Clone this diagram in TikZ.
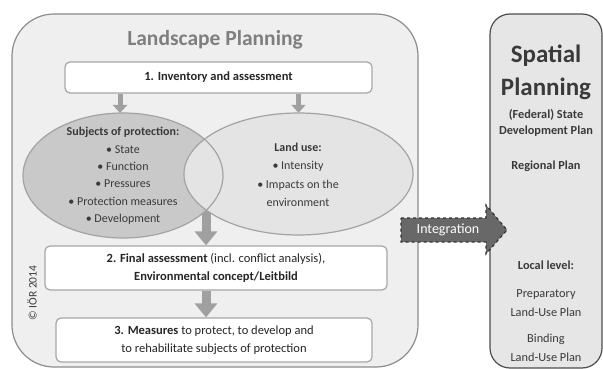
\documentclass[tikz,border=0pt]{standalone}
\usepackage{fontspec}
\setmainfont{Carlito}
\usetikzlibrary{arrows.meta,shapes.geometric}

\definecolor{panelfill}{HTML}{EFEFEF}
\definecolor{panelline}{HTML}{8C8C8C}
\definecolor{spatialfill}{HTML}{E6E6E6}
\definecolor{spatialline}{HTML}{4D4D4D}
\definecolor{boxline}{HTML}{A6A6A6}
\definecolor{subjfill}{HTML}{C9C9C9}
\definecolor{usefill}{HTML}{E4E4E4}
\definecolor{ellline}{HTML}{A3A3A3}
\definecolor{flowgray}{HTML}{A0A0A0}
\definecolor{titlegray}{HTML}{7F7F7F}
\definecolor{inkdark}{HTML}{262626}
\definecolor{inkmid}{HTML}{3A3A3A}
\definecolor{integfill}{HTML}{686868}
\definecolor{integline}{HTML}{333333}

\tikzset{
  panel/.style={draw=panelline, line width=1.2pt, fill=panelfill},
  stepbox/.style={draw=boxline, line width=1.2pt, fill=white, rounded corners=5pt,
    align=center, text=inkdark, font=\fontsize{12.5}{18}\selectfont},
  blob/.style={ellipse, inner sep=0pt},
  blobtext/.style={align=center, text=inkmid, font=\fontsize{12}{17.4}\selectfont},
  smallflow/.style={draw=flowgray, line width=5pt, -{Triangle[width=14pt,length=8pt]}},
  bigflow/.style={draw=flowgray, line width=9pt, -{Triangle[width=22pt,length=14pt]}},
  spatialtext/.style={align=center, text=inkmid, font=\fontsize{12.3}{16}\selectfont},
}

\begin{document}
\begin{tikzpicture}[x=1pt, y=-1pt]
\useasboundingbox (0,0) rectangle (603,369);

% outer panels
\draw[panel, rounded corners=42pt] (12,14) rectangle (418,367);
\draw[draw=spatialline, line width=1.2pt, fill=spatialfill, rounded corners=20pt]
  (490,14) rectangle (602,368);

\node[text=titlegray, font=\fontsize{21.5}{24}\selectfont\bfseries] (title) at (215,40)
  {Landscape Planning};

% step 1
\node[stepbox, minimum width=307pt, minimum height=31pt] (b1) at (218.5,77.5)
  {\bfseries 1. Inventory and assessment};

% central flow arrow (starts beneath the two ellipses)
\coordinate (mid) at (206,200);

% step 2 and 3 boxes
\node[stepbox, minimum width=342pt, minimum height=44pt] (b2) at (216,268)
  {\textbf{2. Final assessment} (incl. conflict analysis),\\ \textbf{Environmental concept/Leitbild}};
\node[stepbox, minimum width=316pt, minimum height=44pt] (b3) at (214,340)
  {\textbf{3. Measures} to protect, to develop and\\ to rehabilitate subjects of protection};

\draw[bigflow] (mid) -- (mid |- b2.north);
\draw[bigflow] (b2.south -| mid) -- (b3.north -| mid);

% overlapping ellipses
\node[blob, fill=subjfill, minimum width=200pt, minimum height=125pt] (lel) at (123,175.5) {};
\node[blob, fill=usefill, minimum width=229pt, minimum height=122pt] (rel) at (298.5,174) {};
\draw[ellline, line width=1.2pt] (lel.center) ellipse [x radius=100pt, y radius=62.5pt];
\draw[ellline, line width=1.2pt] (rel.center) ellipse [x radius=114.5pt, y radius=61pt];

\node[blobtext] (subj) at (123,176)
  {\textbf{Subjects of protection:}\\ • State\\ • Function\\ • Pressures\\ • Protection measures\\ • Development};
\node[blobtext, font=\fontsize{12}{18.5}\selectfont] (use) at (298,175)
  {\textbf{Land use:}\\ • Intensity\\ • Impacts on the\\ environment};

\draw[smallflow] (b1.south -| 120,0) -- (120,113);
\draw[smallflow] (b1.south -| rel.north) -- (rel.north);

% copyright
\node[rotate=90, text=inkmid, font=\fontsize{11.5}{13}\selectfont] (copy) at (32,293) {© IÖR 2014};

% integration arrow
\filldraw[fill=integfill, draw=integline, line width=1.2pt, dashed]
  (401,218) -- (486,218) -- (486,205) -- (507,230) -- (486,254) -- (486,242) -- (401,242) -- cycle;
\node[text=white, font=\fontsize{14}{16}\selectfont] (integ) at (448,230) {Integration};

% spatial planning contents
\node[text=inkmid, font=\fontsize{25}{33}\selectfont\bfseries, align=center] (sp) at (546,72)
  {Spatial\\ Planning};
\node[spatialtext, font=\fontsize{12.3}{16}\selectfont\bfseries] (state) at (546,123)
  {(Federal) State\\ Development Plan};
\node[spatialtext, font=\fontsize{12.3}{16}\selectfont\bfseries] (reg) at (546,166) {Regional Plan};
\node[spatialtext, font=\fontsize{12.3}{16}\selectfont\bfseries] (loc) at (546,265) {Local level:};
\node[spatialtext, font=\fontsize{12.3}{18.5}\selectfont] (prep) at (546,303)
  {Preparatory\\ Land-Use Plan};
\node[spatialtext, font=\fontsize{12.3}{18.5}\selectfont] (bind) at (546,348)
  {Binding\\ Land-Use Plan};
\end{tikzpicture}
\end{document}
